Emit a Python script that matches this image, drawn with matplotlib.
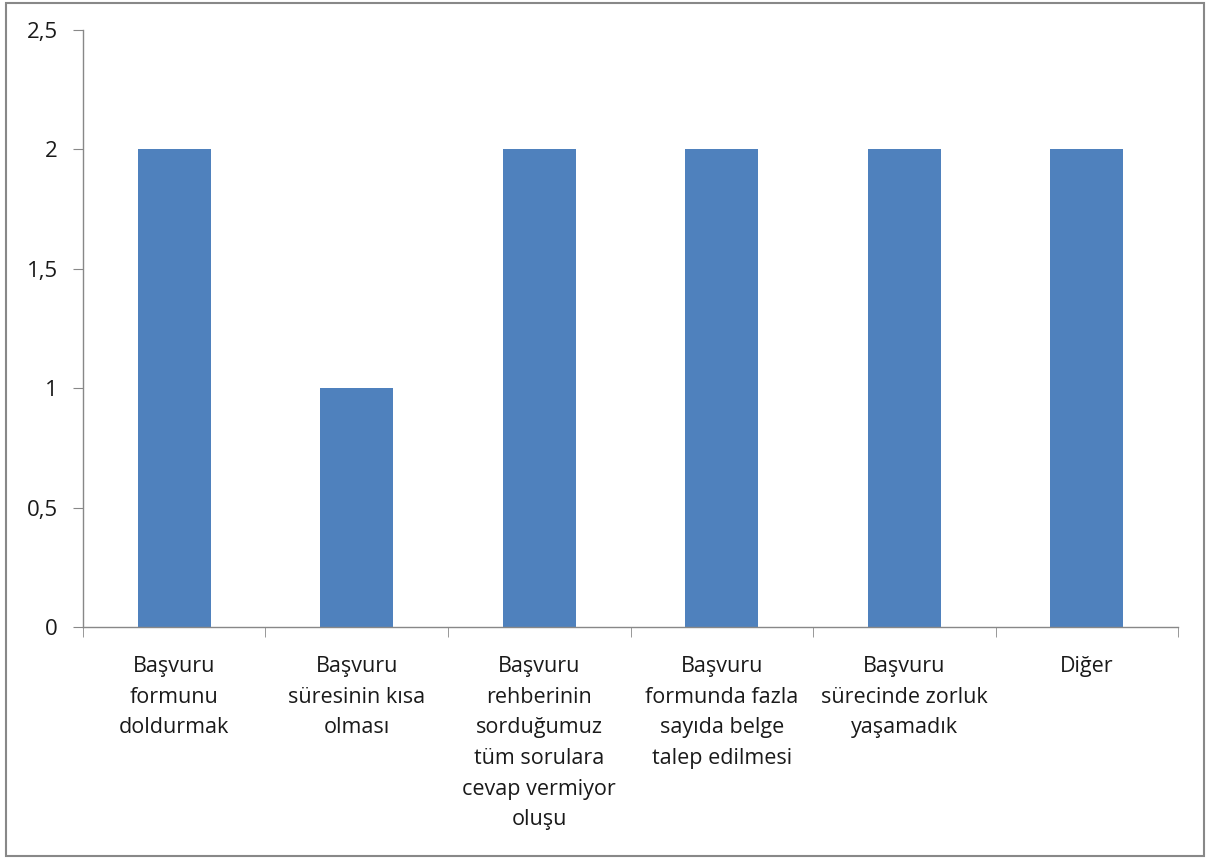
import matplotlib.pyplot as plt
from matplotlib.patches import Rectangle
from matplotlib.ticker import FixedLocator

plt.rcParams['font.family'] = ['Open Sans', 'DejaVu Sans']

# data
categories = [
    "Başvuru\nformunu\ndoldurmak",
    "Başvuru\nsüresinin kısa\nolması",
    "Başvuru\nrehberinin\nsorduğumuz\ntüm sorulara\ncevap vermiyor\noluşu",
    "Başvuru\nformunda fazla\nsayıda belge\ntalep edilmesi",
    "Başvuru\nsürecinde zorluk\nyaşamadık",
    "Diğer",
]
values = [2, 1, 2, 2, 2, 2]
y_ticks = [0, 0.5, 1, 1.5, 2, 2.5]
y_labels = ["0", "0,5", "1", "1,5", "2", "2,5"]

fig = plt.figure(figsize=(12.08, 8.59), dpi=100)
ax = fig.add_axes([0.0687, 0.2701, 0.9065, 0.695])

x = list(range(len(categories)))
ax.bar(x, values, width=0.4, color='#4F81BD')

ax.set_xlim(-0.5, len(categories) - 0.5)
ax.set_ylim(0, 2.5)
ax.set_yticks(y_ticks)
ax.set_yticklabels(y_labels, fontsize=16, color='#1a1a1a')
ax.set_xticks(x)
ax.set_xticklabels(categories, fontsize=15.5, color='#1a1a1a', linespacing=1.6, va='top')
ax.xaxis.set_minor_locator(FixedLocator([i - 0.5 for i in range(len(categories) + 1)]))
ax.tick_params(axis='x', which='major', length=0, pad=21)
ax.tick_params(axis='x', which='minor', length=7, color='#888888', direction='out')
ax.tick_params(axis='y', length=7, color='#888888', direction='out', pad=11)

for s in ['top', 'right']:
    ax.spines[s].set_visible(False)
for s in ['left', 'bottom']:
    ax.spines[s].set_color('#888888')
    ax.spines[s].set_linewidth(1)

# outer chart border
fig.patches.append(Rectangle((0.005, 0.004), 0.992, 0.993, transform=fig.transFigure,
                             fill=False, edgecolor='#888888', linewidth=1.5))

fig.savefig('out.png', dpi=100)
